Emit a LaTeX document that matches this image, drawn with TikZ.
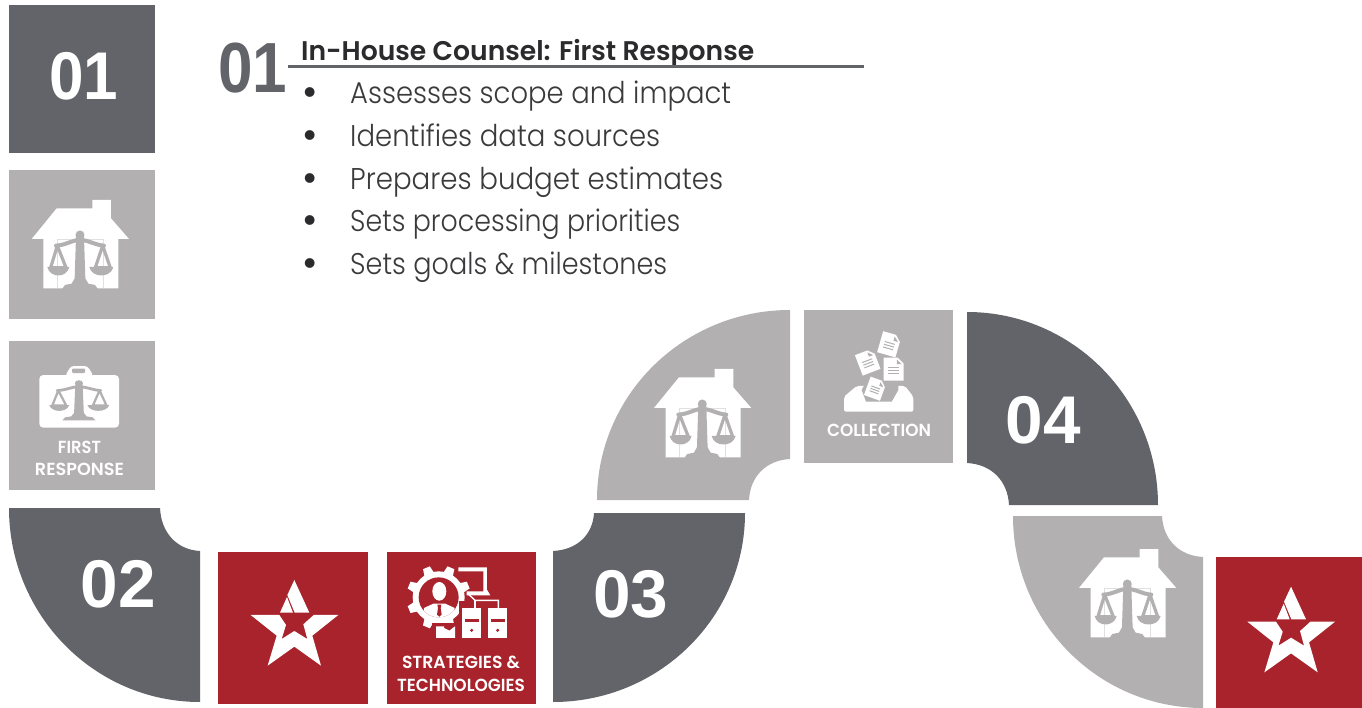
\documentclass[tikz,border=0pt]{standalone}
\usepackage{fontspec}
\usepackage{graphicx}
\setmainfont{Poppins Light}
\newfontfamily\labfont{Poppins SemiBold}
\newfontfamily\headfont{Poppins SemiBold}
\newfontfamily\numfont{Liberation Sans Bold}
\definecolor{darkg}{HTML}{636469}
\definecolor{lightg}{HTML}{B2B0B1}
\definecolor{redb}{HTML}{A8232B}
\definecolor{txt}{HTML}{3A3A3C}
\definecolor{headc}{HTML}{2B2A2C}
\newcommand{\fitw}[2]{\resizebox{#1pt}{\height}{#2}}
\tikzset{
  bodytext/.style={inner sep=0pt,anchor=base west,text=txt,font=\fontsize{30}{30}\selectfont},
  bullettext/.style={inner sep=0pt,anchor=base,text=headc,font=\fontsize{42}{42}\selectfont},
  bignum/.style={inner sep=0pt,anchor=base,text=white,font=\numfont\fontsize{67.5}{68}\selectfont},
  labeltext/.style={inner sep=0pt,anchor=base,text=white,font=\labfont\fontsize{17.5}{18}\selectfont},
}
% quarter ring: colour, centre, x-sign, y-sign, outer rx ry, inner rx ry
\newcommand{\ring}[9]{%
  \fill[#1,shift={(#2,#3)}] ({#4*#6},0) -- ({#4*#8},0)
   .. controls ({#4*.97*#8},{#5*.58*#9}) and ({#4*.58*#8},{#5*.97*#9}) .. (0,{#5*#9})
   -- (0,{#5*#7})
   .. controls ({#4*.5523*#6},{#5*#7}) and ({#4*#6},{#5*.5523*#7}) .. cycle;}
\newcommand{\scalesicon}[6]{%
 \begin{scope}[shift={(#1,#2)},x=#3pt,y=-#4pt]
  \fill[#6] (150,120) circle [radius=13.5];
  \draw[#6,line width=#5pt,line cap=round] (78,152) .. controls (110,150) and (125,135) .. (150,135) .. controls (175,135) and (195,150) .. (222,152);
  \fill[#6] (138,125) -- (162,125) -- (166,250) -- (175,266) -- (195,270) -- (205,284) -- (95,284) -- (105,270) -- (125,266) -- (134,250) -- cycle;
  \draw[#6,line width=.8*#5pt,line join=round] (82,152) -- (62,218) -- (108,218) -- cycle;
  \draw[#6,line width=.8*#5pt,line join=round] (218,152) -- (196,218) -- (241,218) -- cycle;
  \fill[#6] (52,216) .. controls (60,250) and (110,250) .. (118,216) -- cycle;
  \fill[#6] (178,216) .. controls (186,250) and (242,250) .. (250,216) -- cycle;
 \end{scope}}
\newcommand{\houseicon}[2]{%
 \begin{scope}[shift={(#1,#2)},x=.3333pt,y=-.3333pt]
  \fill[white] (187,15) -- (243,15) -- (243,70) -- (297,132) -- (265,132) -- (265,280) -- (40,280) -- (40,132) -- (5,132) -- (80,40) -- (187,40) -- cycle;
  \draw[black!12,line width=.3pt] (82,280) -- (82,132) -- (218,132) -- (218,280);
 \end{scope}
 \scalesicon{#1}{#2}{.3333}{.3333}{4}{lightg}}
\newcommand{\staricon}[2]{%
 \begin{scope}[shift={(#1,#2)},x=.3333pt,y=-.3333pt]
  \fill[white] (148,15) -- (193,113) -- (149,113) -- (127,60) -- cycle;
  \fill[white] (105,113) -- (126,66) -- (144,113) -- cycle;
  \fill[white] (17,120) -- (103,120) -- (123,150) -- (110,192) -- (148,168) -- (187,192) -- (175,148) -- (206,120) -- (280,120) -- (202,182) -- (228,272) -- (148,215) -- (68,272) -- (95,182) -- cycle;
 \end{scope}}
\newcommand{\docicon}[4]{%
 \begin{scope}[shift={(#1,#2)},rotate=#3,scale=#4]
  \fill[white] (-10,-11.5) -- (4,-11.5) -- (10,-5.5) -- (10,11.5) -- (-10,11.5) -- cycle;
  \fill[lightg] (3.2,-9.5) -- (3.2,-4.8) -- (8,-4.8) -- cycle;
  \foreach \yy in {-1.5,1.5,4.5} \draw[lightg,line width=1pt] (-5.5,\yy) -- (5.5,\yy);
 \end{scope}}
\begin{document}
\begin{tikzpicture}[x=1pt,y=-1pt]
\useasboundingbox (0,0) rectangle (1362,708);
\fill[white] (0,0) rectangle (1362,708);
% squares
\fill[darkg] (9,5) rectangle (155,153);
\fill[lightg] (9,170) rectangle (155,319);
\fill[lightg] (9,341) rectangle (155,490);
\fill[redb] (218,552) rectangle (368,704);
\fill[redb] (387,552) rectangle (536,704);
\fill[lightg] (804,310) rectangle (953,463);
\fill[redb] (1216,557) rectangle (1362,708);
% rings
\ring{darkg}{200}{508}{-1}{1}{191}{194}{40}{43}
\ring{darkg}{553}{513}{1}{1}{192}{189}{41}{38}
\ring{lightg}{790}{500}{-1}{-1}{193}{190}{41}{41}
\ring{darkg}{967}{505}{1}{-1}{191}{193}{42}{42}
\ring{lightg}{1203}{516}{-1}{1}{190}{192}{41}{41}
% houses
\houseicon{30}{195}
\houseicon{652.3}{364}
\houseicon{1077.3}{544}
% briefcase
\fill[white,rounded corners=3pt] (65,376) -- (71,366) -- (87.5,366) -- (93.5,376) -- cycle;
\fill[lightg,rounded corners=1pt] (72,368.5) rectangle (85,373);
\fill[white,rounded corners=4pt] (39.3,375) rectangle (119,427.7);
\scalesicon{33.5}{356.1}{.303}{.2267}{2.8}{lightg}
% stars
\staricon{245}{575}
\staricon{1241.7}{581.7}
% gear person icon
\begin{scope}[shift={(400,558)},x=.3333pt,y=-.3333pt]
  \foreach \a in {0,45,...,315} {
    \fill[white,shift={(116,118)},rotate=\a+22.5] (-16,-70) -- (-11,-96) -- (11,-96) -- (16,-70) -- cycle;
  }
  \fill[white] (116,118) circle [radius=78];
  \fill[redb] (116,118) circle [radius=60];
  \begin{scope}
    \clip (116,118) circle [radius=60];
    \fill[white] (70,180) -- (72,150) -- (100,137) -- (136,137) -- (164,150) -- (166,180) -- cycle;
    \fill[redb] (112,140) -- (124,140) -- (122,150) -- (125,170) -- (118,176) -- (111,170) -- (114,150) -- cycle;
  \end{scope}
  \fill[white] (118,100) ellipse [x radius=21,y radius=28];
  \fill[redb] (176,130) rectangle (335,250);
  \fill[redb] (150,205) rectangle (185,250);
  \fill[redb] (95,195) rectangle (175,250);
  \fill[white] (108,205) -- (132,205) -- (132,210) -- (148,218) -- (165,205) -- (165,240) -- (108,240) -- cycle;
  % monitor
  \fill[white] (175,28) -- (261,28) -- (261,95) -- (271,112) -- (200,112) -- (200,100) -- (250,100) -- (250,40) -- (175,40) -- cycle;
  % wire
  \draw[white,line width=1.4pt] (205,108) -- (225,127) -- (295,127) -- (295,150);
  \draw[white,line width=1.4pt] (225,127) -- (225,150);
  % towers
  \foreach \xx in {187,265} {
    \fill[white] (\xx,150) rectangle ++(56,90);
    \fill[redb] (\xx+7,182) rectangle ++(42,9);
    \fill[redb] ({\xx+28},217) circle [radius=5];
  }
\end{scope}
% collection icon
\begin{scope}[shift={(835,325)},x=.3333pt,y=-.3333pt]
  \fill[white,rounded corners=2pt] (27,215) -- (65,183) -- (210,183) -- (235,215) -- (235,260) -- (27,260) -- cycle;
  \fill[lightg] (90,176) -- (190,176) -- (190,195) -- (170,230) -- (93,230) -- (80,195) -- cycle;
\end{scope}
\docicon{889.3}{344.3}{-16}{.95}
\docicon{867.7}{362}{21}{.95}
\docicon{893.7}{369}{0}{1}
\docicon{875.3}{388.7}{-20}{.85}
% big numbers
\node[bignum] (n01) at (83.5,100) {\fitw{69}{01}};
\node[bignum] (n02) at (118.5,607) {02};
\node[bignum] (n03) at (631,617) {03};
\node[bignum] (n04) at (1043.5,443) {04};
% labels
\node[labeltext] (l1) at (79.5,453) {\fitw{43}{FIRST}};
\node[labeltext] (l2) at (79.5,475) {\fitw{89}{RESPONSE}};
\node[labeltext] (l3) at (461,668) {\fitw{118}{STRATEGIES \&}};
\node[labeltext] (l4) at (461,691) {\fitw{128}{TECHNOLOGIES}};
\node[labeltext] (l5) at (879,436) {\fitw{104}{COLLECTION}};
% heading
\node[inner sep=0pt,anchor=base,text=darkg,font=\numfont\fontsize{71}{71}\selectfont] (hnum) at (252.5,93) {\fitw{69}{01}};
\node[inner sep=0pt,anchor=base west,text=headc,font=\headfont\fontsize{27}{27}\selectfont] (htitle) at (301,61) {\fitw{453}{In-House Counsel: First Response}};
\coordinate (ruleL) at (288,67);
\coordinate (ruleR) at (864,67);
\draw[darkg,line width=3pt] (ruleL) -- (ruleR);
% list
\node[bullettext] (b1) at (310,107) {•};
\node[bullettext] (b2) at (310,150) {•};
\node[bullettext] (b3) at (310,193) {•};
\node[bullettext] (b4) at (310,235) {•};
\node[bullettext] (b5) at (310,278) {•};
\node[bodytext] (t1) at (350,104) {\fitw{381}{Assesses scope and impact}};
\node[bodytext] (t2) at (350,147) {\fitw{310}{Identifies data sources}};
\node[bodytext] (t3) at (350,190) {\fitw{373}{Prepares budget estimates}};
\node[bodytext] (t4) at (350,232) {\fitw{330}{Sets processing priorities}};
\node[bodytext] (t5) at (350,275) {\fitw{317}{Sets goals \& milestones}};
\end{tikzpicture}
\end{document}
